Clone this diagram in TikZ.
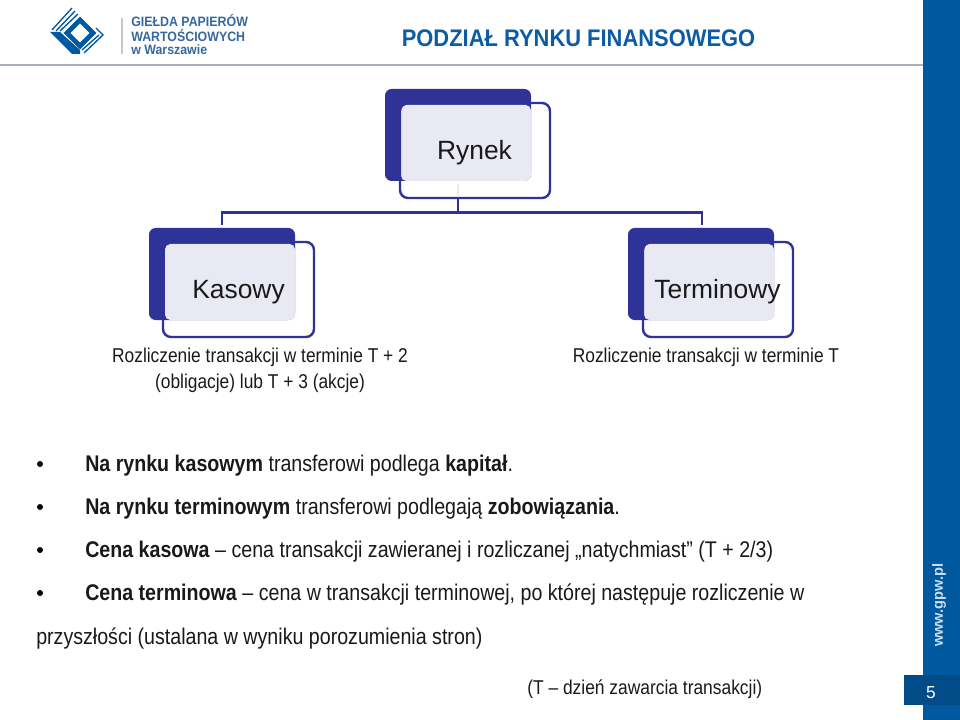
\documentclass[tikz,border=0pt]{standalone}
\usepackage{fontspec}
\setmainfont{Liberation Sans}
\definecolor{gpwblue}{HTML}{00589F}
\definecolor{gpwdark}{HTML}{004B88}
\definecolor{boxblue}{HTML}{2F3397}
\definecolor{boxfill}{HTML}{E8E9F3}
\definecolor{titleblue}{HTML}{0B5CA4}
\definecolor{rulegray}{HTML}{A9B1BF}
\definecolor{logotext}{HTML}{35689E}
\begin{document}
\begin{tikzpicture}[
    x=0.75pt, y=-0.75pt,
    backbox/.style={fill=boxblue, rounded corners=5pt},
    frontbox/.style={draw=boxblue, line width=1.8pt, rounded corners=6pt, fill=none},
    lightbox/.style={fill=boxfill, rounded corners=4pt},
    conn/.style={draw=boxblue, line width=1.6pt},
    title/.style={font=\fontsize{19.8}{22}\selectfont, anchor=base, text=black!90},
    note/.style={font=\fontsize{15}{19.5}\selectfont, anchor=center, align=center, text=black!90},
    txt/.style={font=\fontsize{17}{20}\selectfont, anchor=base west, inner sep=0pt, text=black!90},
    bullet/.style={circle, fill=black, inner sep=0pt, minimum size=4.5pt},
    logoline/.style={draw=gpwblue, line width=1pt, line join=miter},
    logotxt/.style={font=\bfseries\fontsize{10.2}{12}\selectfont, text=logotext, anchor=base west, inner sep=0pt}
]
    \useasboundingbox (0,0) rectangle (960,720);

    % header and side bar
    \draw[rulegray, line width=1.3pt] (0,65) -- (923,65);
    \fill[gpwblue] (923,0) rectangle (960,720);
    \fill[gpwdark] (904,675) rectangle (960,705);
    \node[font=\fontsize{13}{15}\selectfont, text=white] (pagenum) at (931,693) {5};
    \node[rotate=90, font=\bfseries\fontsize{11}{13}\selectfont, text=white!80!gpwblue] (www) at (939,605) {www.gpw.pl};
    \node[font=\bfseries\fontsize{18}{20}\selectfont, text=titleblue] (head) at (578.5,38) {\scalebox{0.913}[1]{PODZIAŁ RYNKU FINANSOWEGO}};

    % logo
    \fill[gpwblue] (50,32) -- (60,32) -- (80,50) -- (80,54) -- (72,54) -- cycle;
    \draw[logoline] (52,30) -- (72,8);
    \draw[logoline] (56,31) -- (75,11);
    \draw[logoline] (60,31) -- (78,14);
    \draw[gpwblue, line width=3.6pt] (80,20) -- (67,33) -- (80,46) -- (93,33) -- cycle;
    \draw[logoline] (84,53) -- (103,35) -- (96,28);
    \draw[logoline] (82,50) -- (99,35);
    \draw[rulegray!70, line width=0.8pt] (122,18) -- (122,54);
    \node[logotxt] (gpw1) at (131,27) {\scalebox{0.91}[1]{GIEŁDA PAPIERÓW}};
    \node[logotxt] (gpw2) at (131,42) {\scalebox{0.91}[1]{WARTOŚCIOWYCH}};
    \node[logotxt] (gpw3) at (131,55) {\scalebox{0.91}[1]{w Warszawie}};

    % top box
    \fill[backbox] (385,89) rectangle (531,181);
    \fill[lightbox] (401,105) rectangle (531,181);
    \draw[frontbox] (400,103) rectangle (550,198);
    \coordinate (rynek) at (475,198);
    \node[title] (rynekt) at (474.5,160) {Rynek};

    % left box
    \fill[backbox] (149,228) rectangle (295,320);
    \fill[lightbox] (165,244) rectangle (295,320);
    \draw[frontbox] (163,242) rectangle (314,337);
    \node[title] (kasowy) at (238.5,299) {Kasowy};

    % right box
    \fill[backbox] (628,228) rectangle (774,320);
    \fill[lightbox] (644,244) rectangle (774,320);
    \draw[frontbox] (643,242) rectangle (793,337);
    \node[title] (terminowy) at (717.5,299) {Terminowy};

    % tree lines
    \coordinate (busm) at (458,212.5);
    \coordinate (busl) at (222,212.5);
    \coordinate (busr) at (702,212.5);
    \coordinate (dropl) at (222,225);
    \coordinate (dropr) at (702,225);
    \draw[boxfill, line width=1.6pt] (458,184) -- (458,197);
    \draw[conn] (busm |- rynek) -- (busm);
    \draw[conn] (dropl) -- (busl) -- (busr) -- (dropr);

    \node[note] (noteleft) at (260,370.5) {\scalebox{0.868}[1]{Rozliczenie transakcji w terminie T + 2}\\\scalebox{0.868}[1]{(obligacje) lub T + 3 (akcje)}};
    \node[note] (noteright) at (706,357.5) {\scalebox{0.868}[1]{Rozliczenie transakcji w terminie T}};

    % body text
    \foreach \y in {464,507,550,593} {
        \node[bullet] at (40,\y) {};
    }
    \node[txt] (l1) at (85,471) {\scalebox{0.866}[1]{\textbf{Na rynku kasowym} transferowi podlega \textbf{kapitał}.}};
    \node[txt] (l2) at (85,514) {\scalebox{0.866}[1]{\textbf{Na rynku terminowym} transferowi podlegają \textbf{zobowiązania}.}};
    \node[txt] (l3) at (85,557) {\scalebox{0.866}[1]{\textbf{Cena kasowa} – cena transakcji zawieranej i rozliczanej „natychmiast” (T + 2/3)}};
    \node[txt] (l4) at (85,600) {\scalebox{0.866}[1]{\textbf{Cena terminowa} – cena w transakcji terminowej, po której następuje rozliczenie w}};
    \node[txt] (l5) at (36,644) {\scalebox{0.866}[1]{przyszłości (ustalana w wyniku porozumienia stron)}};
    \node[txt, font=\fontsize{15}{18}\selectfont] (l6) at (527,694) {\scalebox{0.87}[1]{(T – dzień zawarcia transakcji)}};
\end{tikzpicture}
\end{document}
